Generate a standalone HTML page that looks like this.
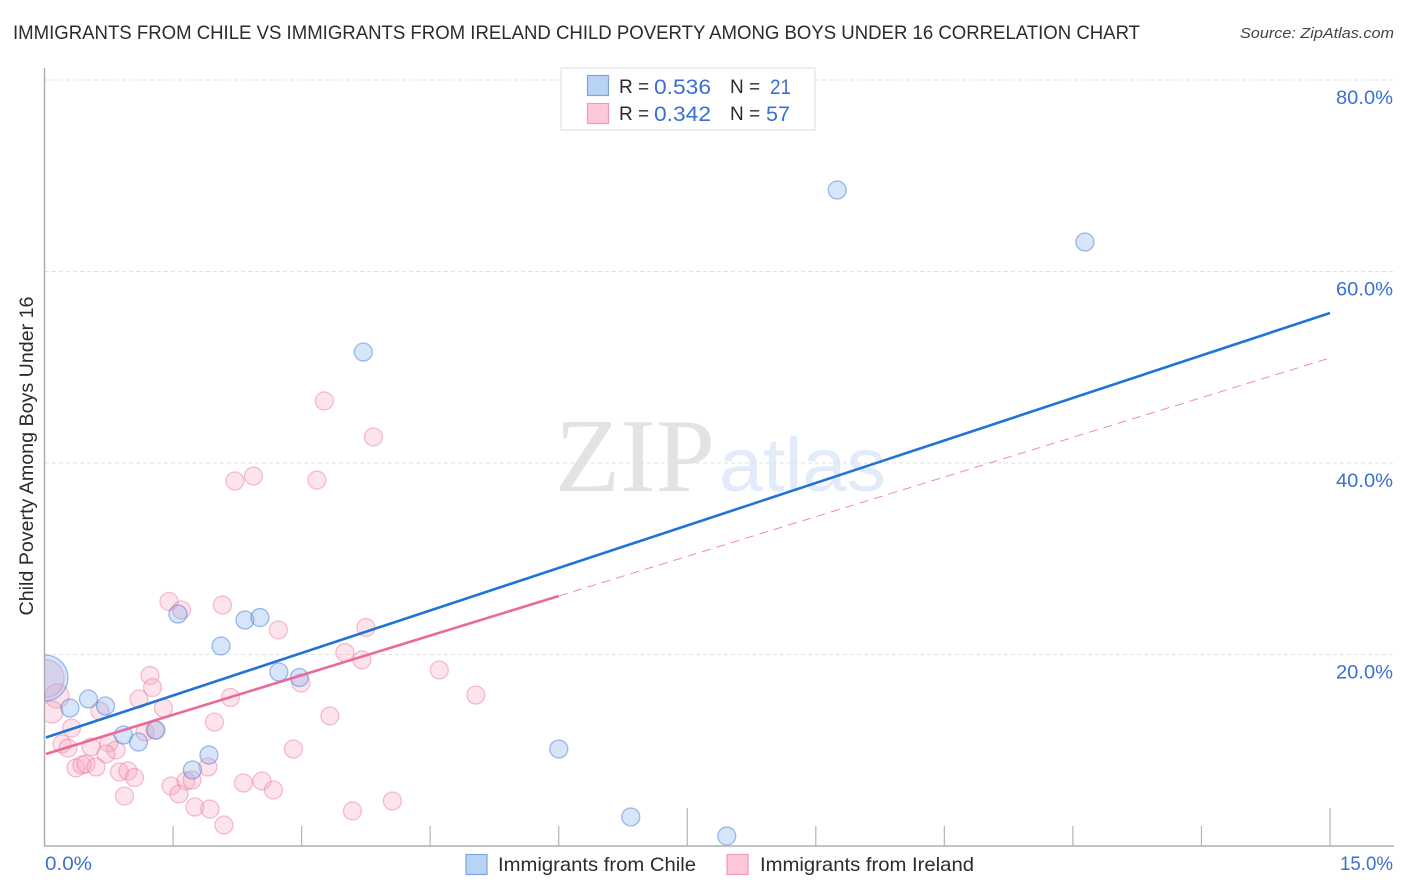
<!DOCTYPE html>
<html lang="en">
<head>
<meta charset="utf-8">
<title>Immigrants from Chile vs Immigrants from Ireland Child Poverty Among Boys Under 16 Correlation Chart</title>
<style>
html,body{margin:0;padding:0;background:#fff;}
svg{display:block;font-family:"Liberation Sans",sans-serif;}
</style>
</head>
<body>
<svg id="chart" xmlns="http://www.w3.org/2000/svg" width="1406" height="892" viewBox="0 0 1406 892">
  <rect x="0" y="0" width="1406" height="892" fill="#ffffff"/>
  <text x="13" y="39" font-size="19" fill="#2a2a33" textLength="1127" lengthAdjust="spacingAndGlyphs">IMMIGRANTS FROM CHILE VS IMMIGRANTS FROM IRELAND CHILD POVERTY AMONG BOYS UNDER 16 CORRELATION CHART</text>
  <text x="1394" y="38" font-size="15" font-style="italic" fill="#444" text-anchor="end" textLength="154" lengthAdjust="spacingAndGlyphs">Source: ZipAtlas.com</text>

  <g id="watermark">
    <text x="555" y="491" font-family="'Liberation Serif',serif" font-size="105" fill="#e3e3e3" textLength="160" lengthAdjust="spacingAndGlyphs">ZIP</text>
    <text x="719" y="491" font-size="76" fill="#e1ebf9" textLength="167" lengthAdjust="spacingAndGlyphs">atlas</text>
  </g>

  <g id="grid"></g>
  <g id="trends"></g>
  <g id="points"></g>
  <rect x="0" y="60" width="44.5" height="790" fill="#ffffff"/>
  <g id="axes"></g>
  <g id="tick-labels"></g>

  <text transform="translate(33,456) rotate(-90)" font-size="19" fill="#2a2a33" text-anchor="middle" textLength="319" lengthAdjust="spacingAndGlyphs">Child Poverty Among Boys Under 16</text>

  <g id="stats-legend">
    <rect x="561" y="68" width="254" height="62" fill="#ffffff" stroke="#e2e2e2" stroke-width="1.2"/>
    <rect x="587.5" y="75.5" width="21" height="20" fill="#b9d3f6" stroke="#7ea6db" stroke-width="1.2"/>
    <rect x="587.5" y="103.5" width="21" height="20" fill="#fcc8da" stroke="#f29ab8" stroke-width="1.2"/>
    <text x="619" y="93" font-size="19" fill="#2a2a33">R =</text>
    <text x="654" y="94" font-size="21.5" fill="#3a70d0" textLength="57" lengthAdjust="spacingAndGlyphs">0.536</text>
    <text x="730" y="93" font-size="19" fill="#2a2a33">N =</text>
    <text x="770" y="94" font-size="21.5" fill="#3a70d0" textLength="21" lengthAdjust="spacingAndGlyphs">21</text>
    <text x="619" y="120" font-size="19" fill="#2a2a33">R =</text>
    <text x="654" y="121" font-size="21.5" fill="#3a70d0" textLength="57" lengthAdjust="spacingAndGlyphs">0.342</text>
    <text x="730" y="120" font-size="19" fill="#2a2a33">N =</text>
    <text x="766" y="121" font-size="21.5" fill="#3a70d0" textLength="24" lengthAdjust="spacingAndGlyphs">57</text>
  </g>

  <g id="series-legend">
    <rect x="466" y="854.5" width="21" height="20" fill="#b9d3f6" stroke="#7ea6db" stroke-width="1.2"/>
    <text x="498" y="871" font-size="19.5" fill="#2a2a33" textLength="198" lengthAdjust="spacingAndGlyphs">Immigrants from Chile</text>
    <rect x="727" y="854.5" width="21" height="20" fill="#fcc8da" stroke="#f29ab8" stroke-width="1.2"/>
    <text x="760" y="871" font-size="19.5" fill="#2a2a33" textLength="214" lengthAdjust="spacingAndGlyphs">Immigrants from Ireland</text>
  </g>
</svg>
<script>
// ---- Chart data (percent values) ----
const yTickValues = [20, 40, 60, 80];
const yTickLabels = ["20.0%", "40.0%", "60.0%", "80.0%"];
const xTickValues = [1.5, 3, 4.5, 6, 7.5, 9, 10.5, 12, 13.5, 15];
const xMajorTicks = [7.5, 15];
const xEndLabels = ["0.0%", "15.0%"];

const chileX = [9.25, 12.14, 3.72, 1.557, 2.339, 2.514, 2.059, 2.735, 2.974, 0.006, 0.513, 0.712, 0.297, 0.921, 1.096, 1.301, 1.919, 1.726, 6.001, 6.841, 7.961];
const chileY = [68.51, 63.08, 51.59, 24.23, 23.60, 23.86, 20.89, 18.17, 17.60, 17.55, 15.35, 14.62, 14.41, 11.59, 10.86, 12.11, 9.50, 7.94, 10.13, 3.03, 1.04];
const chileWeight = [1, 1, 1, 1, 1, 1, 1, 1, 1, 6.5, 1, 1, 1, 1, 1, 1, 1, 1, 1, 1, 1];

const irelandX = [3.266, 3.838, 2.438, 2.222, 3.179, 1.452, 1.598, 2.076, 2.729, 3.750, 3.505, 3.703, 4.607, 5.033, 2.992, 1.231, 1.260, 1.102, 1.388, 2.170, 1.983, 3.330, 2.904, 0.146, 0.087, 0.647, 0.315, 0.204, 0.274, 0.542, 0.752, 0.834, 0.717, 1.172, 1.289, 0.367, 0.437, 0.484, 0.601, 0.875, 0.974, 1.050, 0.933, 1.476, 1.651, 1.721, 1.907, 1.569, 1.755, 1.930, 2.094, 2.321, 2.537, 2.671, 3.593, 4.059, 0.006];
const irelandY = [46.48, 42.72, 38.64, 38.12, 38.22, 25.54, 24.65, 25.17, 22.56, 22.82, 20.21, 19.43, 18.38, 15.77, 17.02, 17.81, 16.55, 15.35, 14.41, 15.51, 12.95, 13.58, 10.13, 15.67, 13.99, 14.10, 12.32, 10.65, 10.23, 10.34, 10.76, 10.03, 9.61, 11.91, 12.11, 8.15, 8.46, 8.56, 8.25, 7.73, 7.83, 7.15, 5.22, 6.27, 6.79, 6.89, 8.25, 5.43, 4.07, 3.86, 2.19, 6.58, 6.79, 5.85, 3.66, 4.70, 17.5];
const irelandWeight = [1, 1, 1, 1, 1, 1, 1, 1, 1, 1, 1, 1, 1, 1, 1, 1, 1, 1, 1, 1, 1, 1, 1, 1.8, 1.5, 1, 1, 1, 1, 1, 1, 1, 1, 1, 1, 1, 1, 1, 1, 1, 1, 1, 1, 1, 1, 1, 1, 1, 1, 1, 1, 1, 1, 1, 1, 1, 4.5];

const chileTrendX = [0.017, 15];
const chileTrendY = [11.33, 55.67];
const irelandTrendX = [0.017, 6.0];
const irelandTrendY = [9.61, 26.11];
const irelandExtendX = [6.0, 15];
const irelandExtendY = [26.11, 50.97];

// ---- Axis functions ----
const xScale = v => 44.5 + v * (1330 - 44.5) / 15;
const yScale = v => 846 - v * (846 - 80) / 80;
const radius = w => 9 * Math.sqrt(w);

const NS = "http://www.w3.org/2000/svg";
function make(tag, attrs, parent) {
  const el = document.createElementNS(NS, tag);
  for (const k in attrs) el.setAttribute(k, attrs[k]);
  parent.appendChild(el);
  return el;
}

const gridG = document.getElementById("grid");
const axesG = document.getElementById("axes");
const labelsG = document.getElementById("tick-labels");
const trendsG = document.getElementById("trends");
const pointsG = document.getElementById("points");

yTickValues.forEach((v, i) => {
  const line = make("line", {x1: 45, x2: 1393, y1: yScale(v), y2: yScale(v), stroke: "#e2e2e2", "stroke-width": 1, "stroke-dasharray": "4 3"}, gridG);
  
  
  const label = make("text", {x: 1393, y: yScale(v) + 24, "font-size": 19.5, fill: "#3a70d0", "text-anchor": "end", textLength: 57, lengthAdjust: "spacingAndGlyphs"}, labelsG);
  label.textContent = yTickLabels[i];
  
  
});

const yAxis = make("line", {x1: 44.5, x2: 44.5, y1: 68, y2: 846.5, stroke: "#aaaaaa", "stroke-width": 1.4}, axesG);


const xAxis = make("line", {x1: 44, x2: 1394, y1: 846, y2: 846, stroke: "#b0b0b0", "stroke-width": 1.4}, axesG);



xTickValues.forEach(v => {
  const top = xMajorTicks.includes(v) ? 808 : 826;
  const tick = make("line", {x1: xScale(v), x2: xScale(v), y1: top, y2: 846, stroke: "#b4b4b4", "stroke-width": 1.2}, axesG);
  
  
});

const xLabelStart = make("text", {x: 45, y: 870, "font-size": 19.5, fill: "#3a70d0", textLength: 47, lengthAdjust: "spacingAndGlyphs"}, labelsG);
xLabelStart.textContent = xEndLabels[0];


const xLabelEnd = make("text", {x: 1393, y: 870, "font-size": 19.5, fill: "#3a70d0", "text-anchor": "end", textLength: 53, lengthAdjust: "spacingAndGlyphs"}, labelsG);
xLabelEnd.textContent = xEndLabels[1];



// Scatter points: Ireland first, Chile on top
irelandX.forEach((v, i) => {
  const c = make("circle", {cx: xScale(v), cy: yScale(irelandY[i]), r: radius(irelandWeight[i]), fill: "rgba(248,170,195,0.33)", stroke: "rgba(232,120,160,0.45)", "stroke-width": 1.3}, pointsG);
  
  
});
chileX.forEach((v, i) => {
  const c = make("circle", {cx: xScale(v), cy: yScale(chileY[i]), r: radius(chileWeight[i]), fill: "rgba(130,175,240,0.32)", stroke: "rgba(70,125,210,0.5)", "stroke-width": 1.3}, pointsG);
  
  
});

// Trend lines
const extendLine = make("line", {x1: xScale(irelandExtendX[0]), y1: yScale(irelandExtendY[0]), x2: xScale(irelandExtendX[1]), y2: yScale(irelandExtendY[1]), stroke: "#ee7fa6", "stroke-width": 0.9, "stroke-dasharray": "9 6"}, trendsG);


const irelandLine = make("line", {x1: xScale(irelandTrendX[0]), y1: yScale(irelandTrendY[0]), x2: xScale(irelandTrendX[1]), y2: yScale(irelandTrendY[1]), stroke: "#e96a9a", "stroke-width": 2.6}, pointsG);


const chileLine = make("line", {x1: xScale(chileTrendX[0]), y1: yScale(chileTrendY[0]), x2: xScale(chileTrendX[1]), y2: yScale(chileTrendY[1]), stroke: "#2272d8", "stroke-width": 2.6}, pointsG);


</script>
</body>
</html>
